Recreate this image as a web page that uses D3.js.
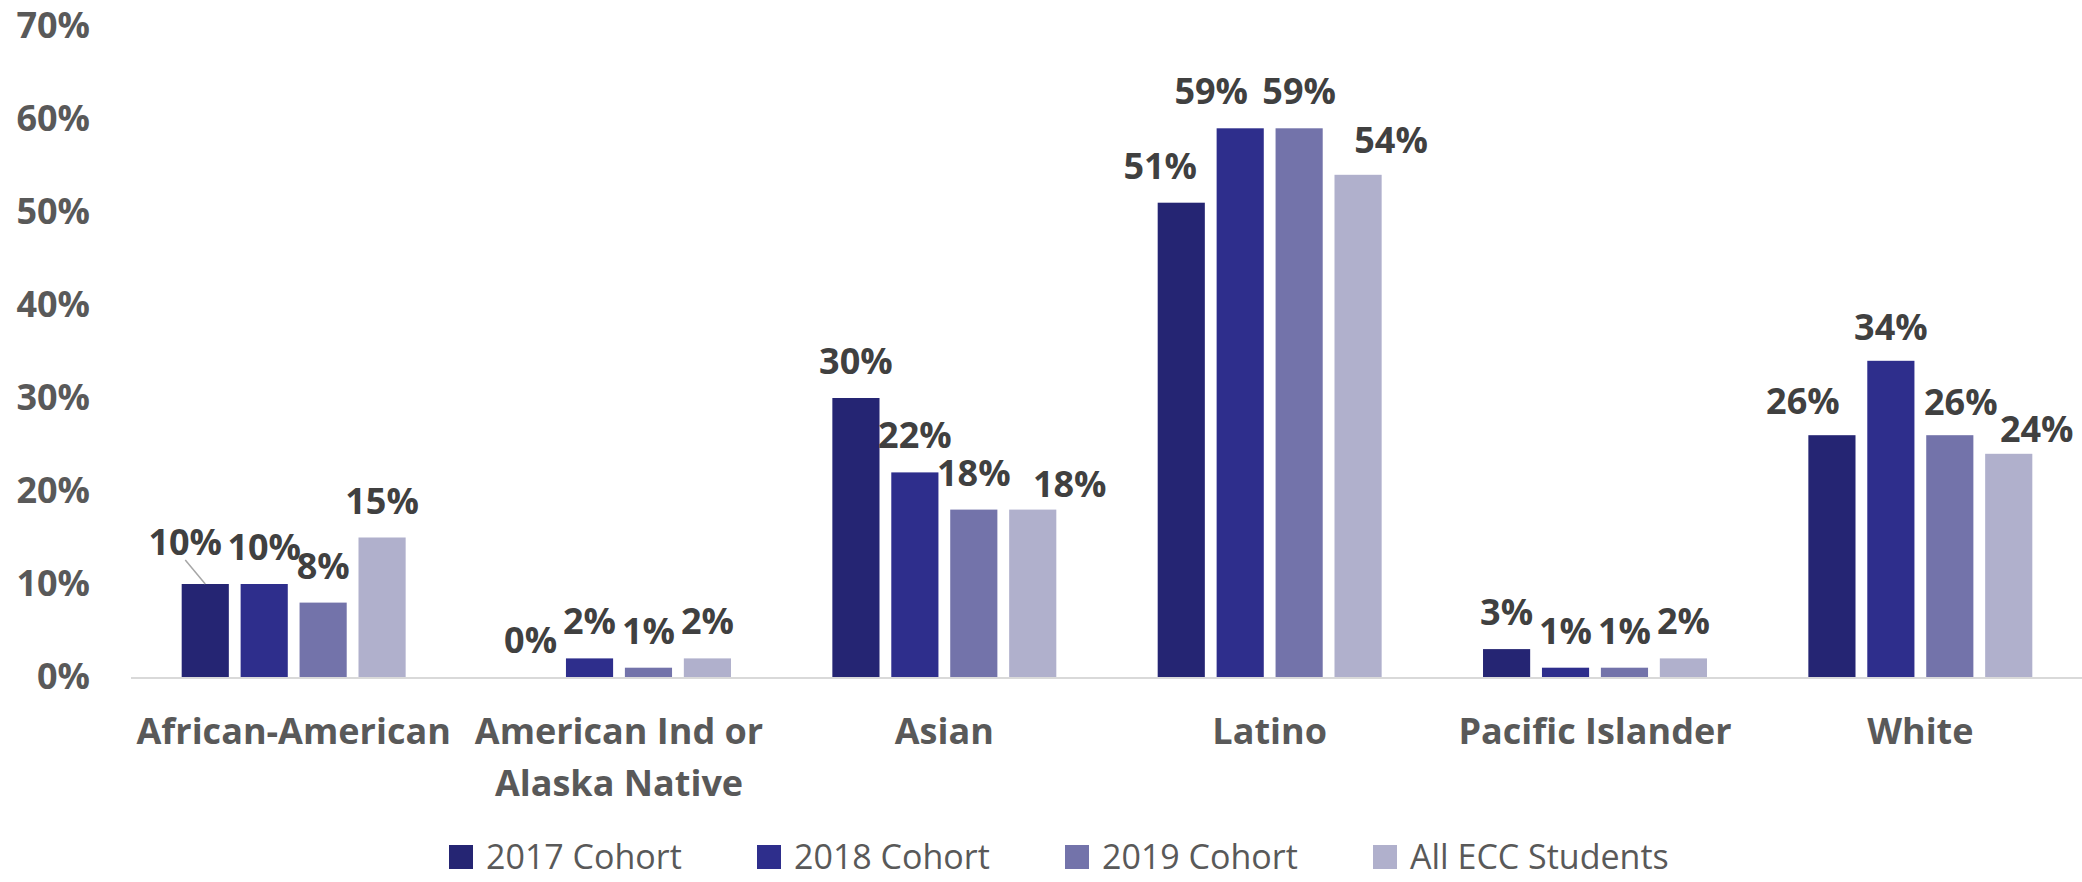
<!DOCTYPE html>
<html>
<head>
<meta charset="utf-8">
<script src="https://cdn.jsdelivr.net/npm/d3@7.9.0/dist/d3.min.js"></script>
<style>
  body { margin: 0; background: #fff; }
  svg { display: block; font-family: "Open Sans", "Noto Sans", sans-serif; }
</style>
</head>
<body>
<svg id="chart" width="2082" height="882"></svg>
<script>
// ---------- DATA ----------
const categories = ["African-American", "American Ind or Alaska Native", "Asian", "Latino", "Pacific Islander", "White"];
const series = ["2017 Cohort", "2018 Cohort", "2019 Cohort", "All ECC Students"];

const cohort2017 = [0.10, 0.00, 0.30, 0.51, 0.03, 0.26];
const cohort2018 = [0.10, 0.02, 0.22, 0.59, 0.01, 0.34];
const cohort2019 = [0.08, 0.01, 0.18, 0.59, 0.01, 0.26];
const allEcc     = [0.15, 0.02, 0.18, 0.54, 0.02, 0.24];

const yTicks = [0, 0.1, 0.2, 0.3, 0.4, 0.5, 0.6, 0.7];

const colors = ["#252573", "#2e2e8c", "#7373aa", "#b0b0cc"];

// labels that were dragged off their default spot in the original
const labelNudge = {
  "African-American|2017 Cohort": { dx: -20, dy: -5, leader: true },
  "Asian|All ECC Students": { dx: 37, dy: 11 },
  "Latino|2017 Cohort": { dx: -21, dy: 0 },
  "Latino|2018 Cohort": { dx: -29, dy: 0 },
  "Latino|All ECC Students": { dx: 33, dy: 2 },
  "White|2017 Cohort": { dx: -29, dy: 3 },
  "White|2018 Cohort": { dx: 0, dy: 3 },
  "White|2019 Cohort": { dx: 11, dy: 4 },
  "White|All ECC Students": { dx: 28, dy: 12 }
};

const valuesBySeries = [cohort2017, cohort2018, cohort2019, allEcc];
const rows = categories.map((c, i) => ({
  category: c,
  values: series.map((s, j) => ({ category: c, series: s, value: valuesBySeries[j][i] }))
}));

// ---------- LAYOUT ----------
const svg = d3.select("#chart");
const plot = { left: 131, right: 2083, top: 26, bottom: 677 };

const x0 = d3.scaleBand()
  .domain(categories)
  .range([plot.left, plot.right])
  .padding(0);

const x1 = d3.scaleBand()
  .domain(series)
  .range([0, x0.bandwidth()])
  .paddingInner(0.2)
  .paddingOuter(0.86);

const y = d3.scaleLinear()
  .domain([0, 0.7])
  .range([plot.bottom, plot.top]);

const color = d3.scaleOrdinal().domain(series).range(colors);
const pct = d3.format(".0%");

// y axis labels (no gridlines in the original)
const yAxis = d3.axisLeft(y).tickValues(yTicks).tickFormat(pct).tickSize(0).tickPadding(0);
const yG = svg.append("g")
  .attr("transform", `translate(90,0)`)
  .call(yAxis);
yG.select(".domain").remove();
yG.selectAll("text")
  .attr("fill", "#595959")
  .attr("font-size", 36)
  .attr("font-weight", 700)
  .attr("font-family", "Open Sans");

// bars
const groups = svg.append("g")
  .selectAll("g")
  .data(rows)
  .join("g")
  .attr("transform", d => `translate(${x0(d.category)},0)`);

groups.selectAll("rect")
  .data(d => d.values)
  .join("rect")
  .attr("x", d => x1(d.series))
  .attr("y", d => y(d.value))
  .attr("width", x1.bandwidth())
  .attr("height", d => y(0) - y(d.value))
  .attr("fill", d => color(d.series));

// baseline
svg.append("line")
  .attr("x1", plot.left)
  .attr("x2", plot.right)
  .attr("y1", y(0) + 1)
  .attr("y2", y(0) + 1)
  .attr("stroke", "#d9d9d9")
  .attr("stroke-width", 2);

// data labels
groups.each(function (row) {
  const g = d3.select(this);
  row.values.forEach(d => {
    const n = labelNudge[d.category + "|" + d.series] || { dx: 0, dy: 0 };
    const cx = x1(d.series) + x1.bandwidth() / 2;
    const top = y(d.value);
    const tx = cx + n.dx;
    const ty = top - 24 + n.dy;
    if (n.leader) {
      g.append("line")
        .attr("x1", cx)
        .attr("y1", top)
        .attr("x2", tx)
        .attr("y2", ty + 5)
        .attr("stroke", "#a6a6a6")
        .attr("stroke-width", 1.5);
    }
    g.append("text")
      .attr("x", tx)
      .attr("y", ty)
      .attr("text-anchor", "middle")
      .attr("fill", "#404040")
      .attr("font-size", 36)
      .attr("font-weight", 700)
      .text(pct(d.value));
  });
});

// category labels, wrapped to the band width
const xAxis = d3.axisBottom(x0).tickSize(0).tickPadding(0);
const xG = svg.append("g")
  .attr("transform", `translate(0,${plot.bottom})`)
  .call(xAxis);
xG.select(".domain").remove();
xG.selectAll("text")
  .attr("fill", "#595959")
  .attr("font-size", 36)
  .attr("font-weight", 700)
  .attr("font-family", "Open Sans")
  .attr("dy", null)
  .attr("y", 67)
  .each(function (label) {
    const t = d3.select(this);
    const words = label.split(" ");
    const maxW = x0.step() - 10;
    t.text(null);
    let line = [];
    let tspan = t.append("tspan").attr("x", 0).attr("dy", 0);
    words.forEach(w => {
      line.push(w);
      tspan.text(line.join(" "));
      if (tspan.node().getComputedTextLength() > maxW && line.length > 1) {
        line.pop();
        tspan.text(line.join(" "));
        line = [w];
        tspan = t.append("tspan").attr("x", 0).attr("dy", 52).text(w);
      }
    });
  });

// legend: equal-width slots, like the original
const legendX = d3.scaleBand()
  .domain(series)
  .range([449, 449 + 308 * series.length])
  .padding(0);

const legend = svg.append("g").attr("transform", "translate(0,857)");
const items = legend.selectAll("g")
  .data(series)
  .join("g")
  .attr("transform", d => `translate(${legendX(d)},0)`);
items.append("rect")
  .attr("width", 24)
  .attr("height", 24)
  .attr("y", -12)
  .attr("fill", d => color(d));
items.append("text")
  .attr("x", 37)
  .attr("y", 0)
  .attr("dy", "0.35em")
  .attr("fill", "#595959")
  .attr("font-size", 34)
  .text(d => d);
</script>
</body>
</html>
